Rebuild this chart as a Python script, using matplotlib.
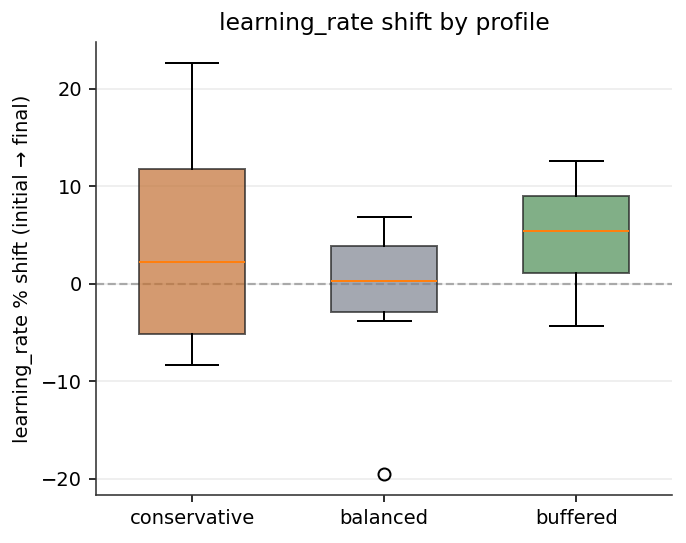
import matplotlib
matplotlib.use("Agg")
import matplotlib.pyplot as plt

# --- dane ---
profiles = ["conservative", "balanced", "buffered"]
whisker_low = [-8.35, -3.85, -4.37]
q1 = [-5.1, -2.93, 1.16]
medians = [2.2, 0.25, 5.45]
q3 = [11.75, 3.9, 9.0]
whisker_high = [22.7, 6.88, 12.58]
outliers = [[], [-19.55], []]

box_colors = ["#c27033", "#7e8491", "#4c8e54"]

plt.rcParams["font.size"] = 9.75

stats = []
for i, name in enumerate(profiles):
    stats.append({
        "label": name,
        "whislo": whisker_low[i],
        "q1": q1[i],
        "med": medians[i],
        "q3": q3[i],
        "whishi": whisker_high[i],
        "fliers": outliers[i],
    })

fig, ax = plt.subplots(figsize=(686 / 144, 543 / 144), dpi=144)

bp = ax.bxp(stats, widths=0.55, patch_artist=True,
            medianprops=dict(color="#ff7f0e", linewidth=1))
for patch, c in zip(bp["boxes"], box_colors):
    patch.set_facecolor(c)
    patch.set_edgecolor("#222222")
    patch.set_alpha(0.7)

ax.axhline(0, color="#999999", linestyle="--", linewidth=1.1, alpha=0.85, zorder=0)
ax.yaxis.grid(True, alpha=0.25, zorder=0)
ax.set_axisbelow(True)

ax.spines["top"].set_visible(False)
ax.spines["right"].set_visible(False)
for s in ("left", "bottom"):
    ax.spines[s].set_color("#333333")

ax.set_ylabel("learning_rate % shift (initial \u2192 final)")
ax.set_title("learning_rate shift by profile")

fig.subplots_adjust(left=0.14, right=0.98, top=0.9227, bottom=0.0884)
plt.savefig("out.png", dpi=144)
